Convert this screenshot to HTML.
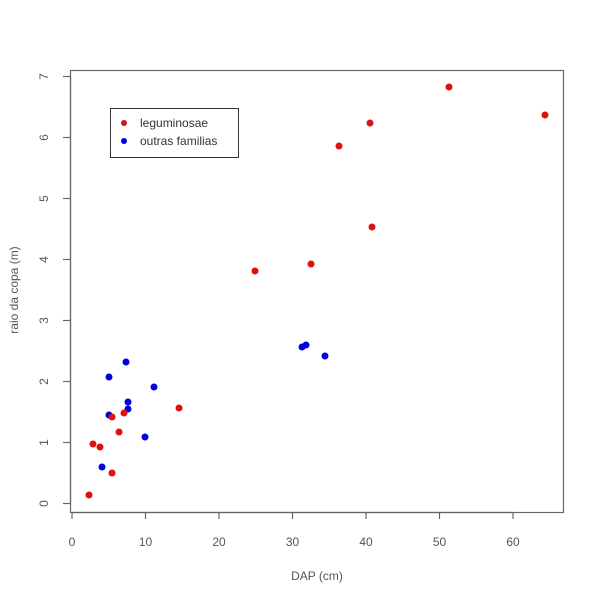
<!DOCTYPE html>
<html><head><style>body{margin:0;background:#fff}</style></head><body>
<svg width="600" height="600" xmlns="http://www.w3.org/2000/svg" font-family="Liberation Sans, sans-serif" font-size="12" fill="#555">
<rect x="70.5" y="70.5" width="493" height="442" fill="none" stroke="#666" stroke-width="1.2"/>
<g stroke="#666" stroke-width="1.2">
<line x1="72" y1="512.5" x2="513" y2="512.5"/>
<line x1="72" y1="512" x2="72" y2="519"/><line x1="145.5" y1="512" x2="145.5" y2="519"/><line x1="219" y1="512" x2="219" y2="519"/><line x1="292.5" y1="512" x2="292.5" y2="519"/><line x1="366" y1="512" x2="366" y2="519"/><line x1="439.5" y1="512" x2="439.5" y2="519"/><line x1="513" y1="512" x2="513" y2="519"/>
<line x1="70.5" y1="503.5" x2="70.5" y2="77"/>
<line x1="63" y1="503.5" x2="70" y2="503.5"/><line x1="63" y1="442.5" x2="70" y2="442.5"/><line x1="63" y1="381.5" x2="70" y2="381.5"/><line x1="63" y1="320.5" x2="70" y2="320.5"/><line x1="63" y1="259.5" x2="70" y2="259.5"/><line x1="63" y1="198.5" x2="70" y2="198.5"/><line x1="63" y1="137.5" x2="70" y2="137.5"/><line x1="63" y1="76.5" x2="70" y2="76.5"/>
</g>
<g text-anchor="middle">
<text x="72" y="546">0</text><text x="145.5" y="546">10</text><text x="219" y="546">20</text><text x="292.5" y="546">30</text><text x="366" y="546">40</text><text x="439.5" y="546">50</text><text x="513" y="546">60</text>
<text x="317" y="580">DAP (cm)</text>
</g>
<g text-anchor="middle">
<text transform="translate(48,503.5) rotate(-90)">0</text><text transform="translate(48,442.5) rotate(-90)">1</text><text transform="translate(48,381.5) rotate(-90)">2</text><text transform="translate(48,320.5) rotate(-90)">3</text><text transform="translate(48,259.5) rotate(-90)">4</text><text transform="translate(48,198.5) rotate(-90)">5</text><text transform="translate(48,137.5) rotate(-90)">6</text><text transform="translate(48,76.5) rotate(-90)">7</text>
<text transform="translate(18,290) rotate(-90)">raio da copa (m)</text>
</g>
<g fill="#0000dd">
<circle cx="102" cy="467" r="3.5"/><circle cx="109" cy="415" r="3.5"/><circle cx="109" cy="377" r="3.5"/><circle cx="126" cy="362" r="3.5"/><circle cx="128" cy="402" r="3.5"/><circle cx="128" cy="409" r="3.5"/><circle cx="145" cy="437" r="3.5"/><circle cx="154" cy="387" r="3.5"/><circle cx="302" cy="347" r="3.5"/><circle cx="306" cy="345" r="3.5"/><circle cx="325" cy="356" r="3.5"/>
</g>
<g fill="#dd1111">
<circle cx="89" cy="495" r="3.5"/><circle cx="93" cy="444" r="3.5"/><circle cx="100" cy="447" r="3.5"/><circle cx="112" cy="473" r="3.5"/><circle cx="112" cy="417" r="3.5"/><circle cx="119" cy="432" r="3.5"/><circle cx="124" cy="413" r="3.5"/><circle cx="179" cy="408" r="3.5"/><circle cx="255" cy="271" r="3.5"/><circle cx="311" cy="264" r="3.5"/><circle cx="339" cy="146" r="3.5"/><circle cx="370" cy="123" r="3.5"/><circle cx="372" cy="227" r="3.5"/><circle cx="449" cy="87" r="3.5"/><circle cx="545" cy="115" r="3.5"/>
</g>
<rect x="110.5" y="108.5" width="128" height="49" fill="#fff" stroke="#333" stroke-width="1"/>
<circle cx="124" cy="123" r="3" fill="#dd1111"/><circle cx="124" cy="141" r="3" fill="#0000dd"/>
<text x="140" y="127" fill="#333">leguminosae</text>
<text x="140" y="145" fill="#333">outras familias</text>
</svg>
</body></html>
